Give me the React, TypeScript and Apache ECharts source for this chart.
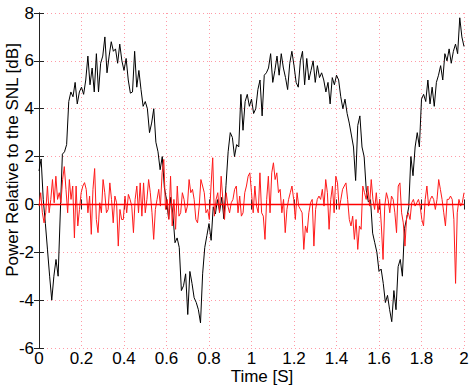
import React, { useEffect, useRef } from "react";
import * as echarts from "echarts";

// Time axis
const T_START = 0;
const T_END = 2;

// Axis titles
const xTitle = "Time [S]";
const yTitle = "Power Relative to the SNL [dB]";

// Black trace (sampled every 0.01 s)
const blackValues = [
  1.4, 1.9, 0.2, -0.8, -1.9, -3.0, -4.0, -3.0, -2.3, -3.0,
  -0.4, 2.1, 2.2, 2.5, 4.3, 4.7, 4.5, 5.1, 4.2, 4.7,
  4.9, 4.6, 5.2, 6.2, 5.0, 5.7, 4.7, 6.3, 4.7, 5.9,
  6.2, 7.0, 5.5, 6.2, 6.8, 6.4, 6.5, 5.9, 6.7, 6.0,
  5.6, 6.1, 5.2, 4.65, 4.7, 6.4, 4.9, 5.6, 4.8, 4.1,
  4.3, 4.0, 3.0, 3.4, 4.0, 2.6, 2.2, 1.45, 2.0, 0.7,
  0.2, -0.6, 0.3, -0.4, -1.6, -1.4, -1.8, -3.6, -3.4, -2.9,
  -4.6, -2.8, -3.3, -3.9, -4.1, -4.4, -4.95, -2.9, -1.8, -1.3,
  -0.8, -1.5, -0.1, -0.4, 0.2, -0.3, 0.3, -0.6, 0.8, 2.2,
  3.0, 2.8, 2.0, 2.5, 2.4, 4.6, 3.1, 4.3, 4.6, 4.1,
  4.4, 3.8, 4.0, 4.8, 5.2, 3.7, 5.4, 5.5, 5.7, 6.3,
  5.1, 5.6, 6.2, 5.4, 6.3, 5.7, 5.3, 4.8, 5.9, 6.4,
  5.8, 5.1, 4.9, 6.0, 6.4, 5.0, 6.1, 5.2, 5.6, 6.0,
  5.1, 5.8, 5.3, 5.5, 5.2, 4.7, 5.1, 4.2, 5.3, 5.0,
  5.4, 5.2, 4.5, 4.0, 4.4, 3.8, 3.4, 2.9, 2.4, 1.0,
  3.3, 3.7, 2.4, 2.0, 0.6, 0.1, 0.2, -1.2, -1.6, -2.0,
  -2.8, -2.7, -3.3, -4.1, -3.8, -4.4, -4.9, -3.6, -4.4, -2.6,
  -2.3, -3.0, -1.0, -0.6, -0.1, 2.0, 1.2, 2.4, 3.0, 2.4,
  4.4, 4.6, 4.3, 5.2, 4.2, 4.9, 4.1, 5.1, 5.4, 5.8,
  5.2, 6.3, 6.0, 6.5, 5.9, 6.4, 6.7, 6.3, 7.8, 7.0,
  6.6,
];

// Red trace (evenly sampled over 0..2 s)
const redValues = [
  -0.07, 0.49, -0.35, -0.77, -0.35, 0.77, -0.35, 0.21, 1.04, 0.07,
  1.18, 0.21, 0.49, 0.07, 1.04, 1.58, 0.63, -0.35, 1.04, 0.21,
  0.77, -1.4, 0.77, -0.9, -0.21, 0.49, 0.77, 0.91, 0.63, -0.35,
  0.35, -1.25, 0.63, 1.5, -0.63, -1.18, 0.07, -0.35, 1.04, 0.49,
  -0.35, -0.21,
  0.9, 0.21, -0.77, 0.35, 0.07, -1.74, -0.21, -0.63, -0.63, 0.35,
  -0.35, 0.42, 0.21, -0.07, -1.18, 0.21, 0.77, -0.35, 0.9, -0.49,
  0.9, -0.35, 0.21, 1.04, 0.49, -0.35, -1.46, -0.21, 0.21, 0.63,
  -0.07, 1.32, 1.88, -0.21, 0.21, -0.63, 1.18, -0.9, 0.21, -1.04,
  0.77, -0.49,
  -0.35, 0.49, 0.21, -0.35, -0.07, 1.04, 0.49, 0.63, 0.21, -0.63,
  -0.77, -0.07, 1.04, 0.77, 0.49, -0.35, -0.21, -0.63, 0.77, 1.95,
  -0.49, 0.21, 0.49, -0.35, 1.18, 0.21, -0.63, 0.49, -0.07, -0.35,
  0.07, 0.21, 0.63, 0.77, -0.35, 0.35, -0.49, -0.35, 0.49, 0.77,
  1.18, 1.32,
  0.49, -0.35, 0.77, -0.07, -0.35, 1.32, -0.35, -0.49, -1.46, 0.21,
  1.18, -0.35, 1.32, 1.74, 1.04, 1.32, 0.49, 0.63, -0.35, 0.21,
  -1.18, -0.21, 0.21, 0.49, 0.77, 0.21, -0.63, 0.49, -0.07, -0.21,
  -0.35, -1.88, -0.9, -1.18, -0.35, 0.07, 0.21, -1.74, -0.21, 0.21,
  0.35, 0.21,
  0.63, -0.07, 1.04, 0.49, -1.04, 0.21, 0.77, -0.35, 1.18, 0.9,
  -0.21, 0.21, 0.63, 0.77, 0.9, 0.21, -0.63, -0.9, -0.49, -1.46,
  -0.63, -1.88, -0.9, -1.04, 0.77, 0.49, 0.21, 0.77, -0.07, 1.04,
  0.21, -0.21, 0.49, -0.35, 0.21, -0.9, -2.3, -0.07, 0.49, 0.21,
  -0.35, 0.35,
  0.21, -0.35, -1.18, 0.77, 0.9, -0.35, -0.77, -1.74, -0.49, -0.35,
  -0.63, 0.07, 0.21, -0.07, 0.07, 0.21, -0.07, -0.63, -0.9, 0.21,
  0.77, -0.07, 0.21, 0.35, 0.21, -0.21, 0.21, 1.04, 0.63, 0.21,
  -0.35, -0.9, 0.21, 0.21, 0.35, 0.21, -0.63, -3.3, -0.35, 0.21,
  -0.07, 0.07, 0.49,
];

// Reference level
const refTimes = [0, 2];
const refValues = [0, 0];

const FONT = "Liberation Sans, Arial, Helvetica, sans-serif";
const FS = 17;

function toPairs(values: number[]) {
  const n = values.length;
  return values.map((v, i) => [T_START + ((T_END - T_START) * i) / (n - 1), v]);
}

export default function App() {
  const ref = useRef<HTMLDivElement>(null);
  useEffect(() => {
    if (!ref.current) return;
    const chart = echarts.init(ref.current, undefined, { renderer: "svg" });
    const axisLine = { show: true, lineStyle: { color: "#222", width: 1 } };
    const tick = { show: true, inside: true, length: 5, lineStyle: { color: "#222" } };
    const split = { show: true, lineStyle: { color: "#ff9aa6", type: [1, 3] as any, width: 1 } };
    chart.setOption({
      animation: false,
      backgroundColor: "#fff",
      textStyle: { fontFamily: FONT },
      grid: { left: 39, right: 5, top: 13, bottom: 39, containLabel: false, outerBoundsMode: "none" } as any,
      xAxis: [
        {
          type: "value",
          min: 0,
          max: 2,
          interval: 0.2,
          position: "bottom",
          axisLine,
          axisTick: tick,
          splitLine: split,
          axisLabel: { color: "#000", fontSize: FS, lineHeight: 16, fontFamily: FONT, margin: 2, formatter: (v: number) => String(Number(v.toFixed(1))) },
        },
        {
          type: "value",
          min: 0,
          max: 2,
          interval: 0.2,
          position: "top",
          axisLine,
          axisTick: tick,
          splitLine: { show: false },
          axisLabel: { show: false },
        },
      ],
      yAxis: [
        {
          type: "value",
          min: -6,
          max: 8,
          interval: 2,
          position: "left",
          axisLine,
          axisTick: tick,
          splitLine: split,
          axisLabel: { color: "#000", fontSize: FS, lineHeight: 16, fontFamily: FONT, margin: 5 },
        },
        {
          type: "value",
          min: -6,
          max: 8,
          interval: 2,
          position: "right",
          axisLine,
          axisTick: tick,
          splitLine: { show: false },
          axisLabel: { show: false },
        },
      ],
      graphic: [
        {
          type: "text",
          x: 262,
          y: 376,
          style: { text: xTitle, fill: "#000", fontSize: FS, lineHeight: 14, fontFamily: FONT, textAlign: "center", textVerticalAlign: "middle" },
        },
        {
          type: "text",
          x: 12,
          y: 160,
          rotation: Math.PI / 2,
          style: { text: yTitle, fill: "#000", fontSize: FS, lineHeight: 16, fontFamily: FONT, textAlign: "center", textVerticalAlign: "middle" },
        },
      ],
      series: [
        {
          type: "line",
          data: toPairs(blackValues),
          showSymbol: false,
          lineStyle: { color: "#000", width: 1 },
          z: 2,
        },
        {
          type: "line",
          data: toPairs(redValues),
          showSymbol: false,
          lineStyle: { color: "#ff1a1a", width: 1 },
          z: 3,
        },
        {
          type: "line",
          data: refTimes.map((t, i) => [t, refValues[i]]),
          showSymbol: false,
          lineStyle: { color: "#ff0000", width: 1.6 },
          z: 4,
        },
      ],
    });
    return () => chart.dispose();
  }, []);
  return <div ref={ref} style={{ width: 469, height: 387, position: "absolute", left: 0, top: 0 }} />;
}
